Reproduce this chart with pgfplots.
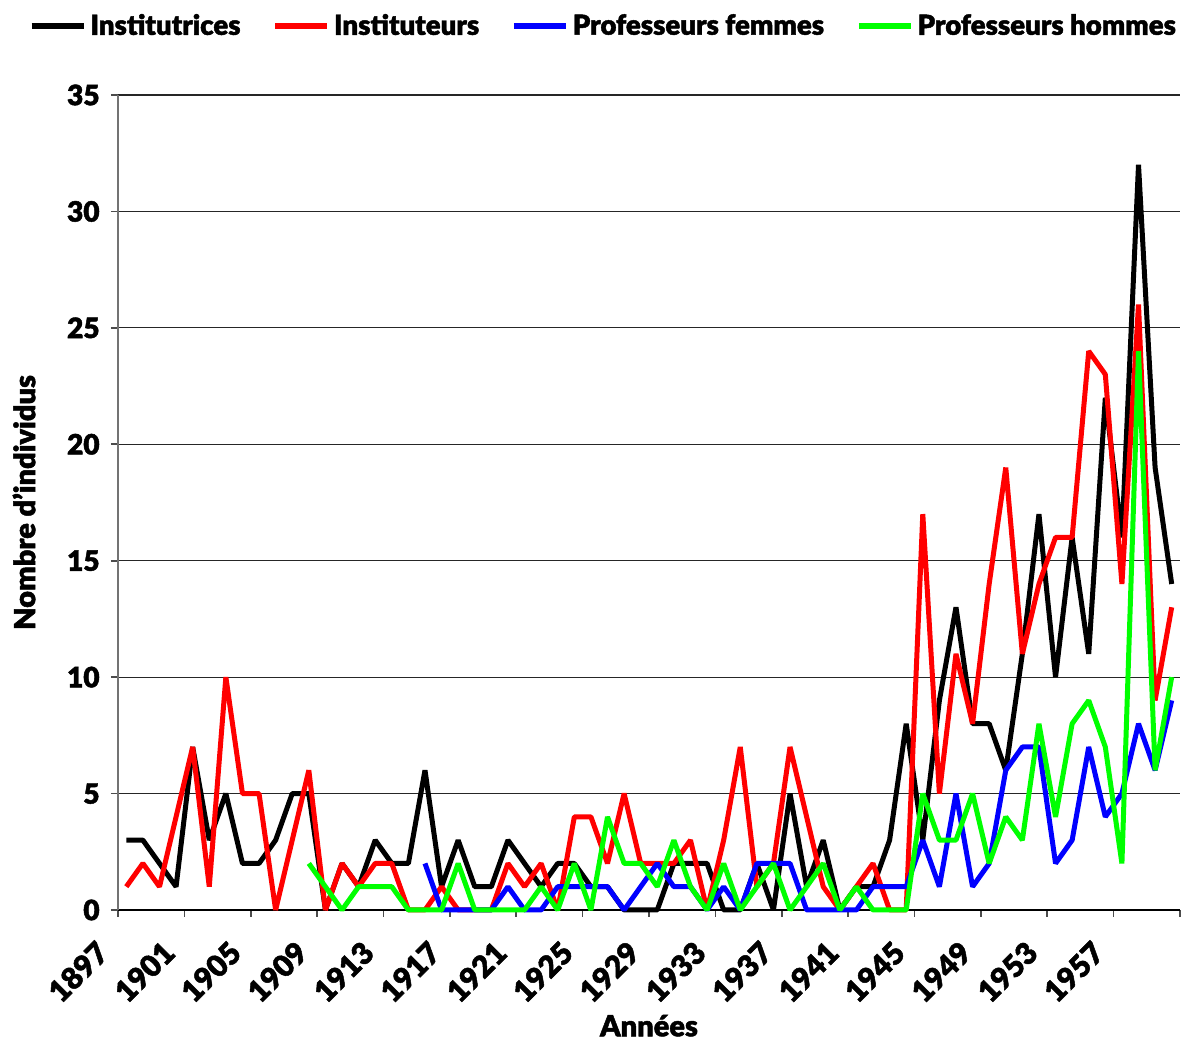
\documentclass[border=0pt]{standalone}
\usepackage{pgfplots}
\pgfplotsset{compat=1.18}
\usepackage{fontspec}
\setmainfont{Lato Black}[FakeBold=1.6]
\begin{document}
\begin{tikzpicture}
\begin{axis}[name=ax, scale only axis, width=531pt, height=407.5pt,
  xmin=1896.5, xmax=1960.5, ymin=0, ymax=35,
  axis lines*=left,
  x axis line style={black, line width=1pt},
  y axis line style={black!55, line width=1pt},
  xtick={1896.5,1900.5,...,1960.5},
  xticklabels={1897,1901,1905,1909,1913,1917,1921,1925,1929,1933,1937,1941,1945,1949,1953,1957,{}},
  ytick={0,5,...,35},
  ymajorgrids, major grid style={black!85, line width=0.6pt},
  tick align=outside, major tick length=3.5pt,
  tick style={black!70, line width=0.8pt},
  /pgf/number format/assume math mode=true,
  yticklabel style={font=\fontsize{14}{14}\selectfont, anchor=east, inner sep=0pt, xshift=-5.5pt},
  xticklabel style={font=\fontsize{15}{15}\selectfont, xshift=-7.5pt, yshift=-15pt, rotate=45, anchor=east, inner sep=0pt},
  xlabel={Années}, ylabel={Nombre d'individus},
  label style={font=\fontsize{14.5}{14.5}\selectfont},
  xlabel style={at={(axis description cs:0.5,-0.142)}, anchor=center},
  ylabel style={at={(axis description cs:-0.0885,0.5)}, anchor=center},
  clip=false,
  legend columns=4,
  legend style={at={(0.458,1.0847)}, anchor=center, draw=none, fill=none,
    font=\fontsize{13.8}{15}\selectfont,
    /tikz/every even column/.append style={column sep=14pt}},
  legend image code/.code={\draw[#1, line width=2.8pt, line cap=butt] (0pt,0pt) -- (26pt,0pt);},
  every axis plot/.append style={line width=2.5pt, line join=bevel, mark=none},
]
\addplot[black] coordinates {
(1897,3)(1898,3)(1899,2)(1900,1)(1901,7)(1902,3)(1903,5)(1904,2)(1905,2)(1906,3)
(1907,5)(1908,5)(1909,0)(1910,2)(1911,1)(1912,3)(1913,2)(1914,2)(1915,6)(1916,1)
(1917,3)(1918,1)(1919,1)(1920,3)(1921,2)(1922,1)(1923,2)(1924,2)(1925,1)(1926,1)
(1927,0)(1928,0)(1929,0)(1930,2)(1931,2)(1932,2)(1933,0)(1934,0)(1935,2)(1936,0)
(1937,5)(1938,1)(1939,3)(1940,0)(1941,1)(1942,1)(1943,3)(1944,8)(1945,3)(1946,9)
(1947,13)(1948,8)(1949,8)(1950,6)(1951,11)(1952,17)(1953,10)(1954,16)(1955,11)(1956,22)
(1957,16)(1958,32)(1959,19)(1960,14)};
\addlegendentry{Institutrices}
\addplot[red] coordinates {
(1897,1)(1898,2)(1899,1)(1900,4)(1901,7)(1902,1)(1903,10)(1904,5)(1905,5)(1906,0)
(1907,3)(1908,6)(1909,0)(1910,2)(1911,1)(1912,2)(1913,2)(1914,0)(1915,0)(1916,1)
(1917,0)(1918,0)(1919,0)(1920,2)(1921,1)(1922,2)(1923,0)(1924,4)(1925,4)(1926,2)
(1927,5)(1928,2)(1929,2)(1930,2)(1931,3)(1932,0)(1933,3)(1934,7)(1935,1)(1936,2)
(1937,7)(1938,4)(1939,1)(1940,0)(1941,1)(1942,2)(1943,0)(1944,0)(1945,17)(1946,5)
(1947,11)(1948,8)(1949,14)(1950,19)(1951,11)(1952,14)(1953,16)(1954,16)(1955,24)(1956,23)
(1957,14)(1958,26)(1959,9)(1960,13)};
\addlegendentry{Instituteurs}
\addplot[blue] coordinates {
(1915,2)(1916,0)(1917,0)(1918,0)(1919,0)(1920,1)(1921,0)(1922,0)(1923,1)(1924,1)
(1925,1)(1926,1)(1927,0)(1928,1)(1929,2)(1930,1)(1931,1)(1932,0)(1933,1)(1934,0)
(1935,2)(1936,2)(1937,2)(1938,0)(1939,0)(1940,0)(1941,0)(1942,1)(1943,1)(1944,1)
(1945,3)(1946,1)(1947,5)(1948,1)(1949,2)(1950,6)(1951,7)(1952,7)(1953,2)(1954,3)
(1955,7)(1956,4)(1957,5)(1958,8)(1959,6)(1960,9)};
\addlegendentry{Professeurs femmes}
\addplot[green] coordinates {
(1908,2)(1909,1)(1910,0)(1911,1)(1912,1)(1913,1)(1914,0)(1915,0)(1916,0)(1917,2)
(1918,0)(1919,0)(1920,0)(1921,0)(1922,1)(1923,0)(1924,2)(1925,0)(1926,4)(1927,2)
(1928,2)(1929,1)(1930,3)(1931,1)(1932,0)(1933,2)(1934,0)(1935,1)(1936,2)(1937,0)
(1938,1)(1939,2)(1940,0)(1941,1)(1942,0)(1943,0)(1944,0)(1945,5)(1946,3)(1947,3)
(1948,5)(1949,2)(1950,4)(1951,3)(1952,8)(1953,4)(1954,8)(1955,9)(1956,7)(1957,2)
(1958,24)(1959,6)(1960,10)};
\addlegendentry{Professeurs hommes}
\end{axis}
\path (ax.south west) ++(-59pt,-65.5pt) coordinate (bl);
\path (ax.north east) ++(4pt,47.5pt) coordinate (tr);
\pgfresetboundingbox
\path (bl) rectangle (tr);
\end{tikzpicture}
\end{document}
